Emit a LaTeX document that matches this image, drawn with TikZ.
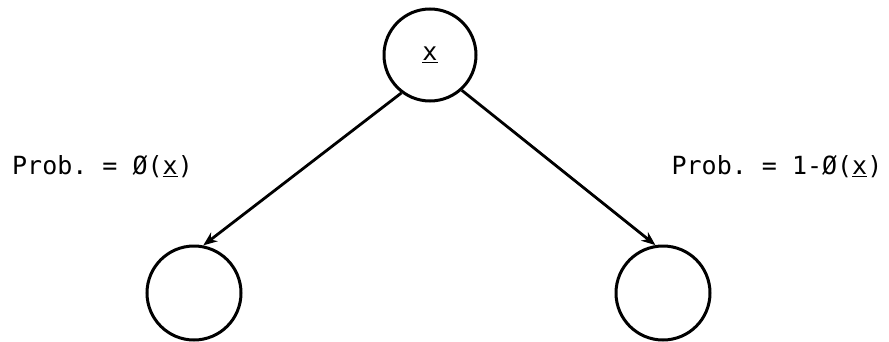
\documentclass[tikz,border=0pt]{standalone}
\usepackage{fontspec}
\setmonofont{DejaVu Sans Mono}
\usepackage{tikz}
\usetikzlibrary{arrows.meta,positioning}

\begin{document}
\begin{tikzpicture}[
    x=1pt, y=1pt,
    font=\ttfamily\fontsize{25}{30}\selectfont,
    state/.style = {draw, circle, line width=3pt, minimum size=92pt,
                    inner sep=0pt},
    leaf/.style  = {state, minimum size=94pt},
    prob/.style  = {inner sep=0pt},
    arr/.style   = {-{Stealth[open, length=14pt, width=11pt]}, line width=2.8pt},
]
\useasboundingbox (0,0) rectangle (889,341);

% ============ root ============
\node[state] (root) at (430,286) {\underline{x}};

% ============ children ============
\node[leaf] (left)  at (194,48) {};
\node[leaf] (right) at (663,48) {};

\draw[arr] (root.233) -- (left.79);
\draw[arr] (root.312) -- (right.99);

% ============ branch probabilities ============
\node[prob] (pleft)  at (102.5,174) {Prob. = Ø(\underline{x})};
\node[prob] (pright) at (777,174)   {Prob. = 1-Ø(\underline{x})};

\end{tikzpicture}
\end{document}
